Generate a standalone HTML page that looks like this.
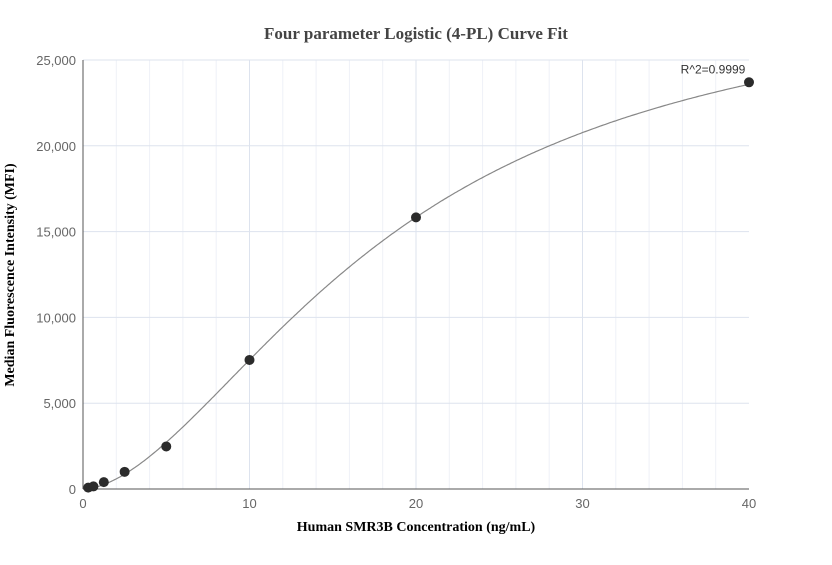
<!DOCTYPE html>
<html><head><meta charset="utf-8"><style>
body{margin:0;background:#fff;}
svg text{font-family:"Liberation Sans",sans-serif;}
</style></head><body>
<svg id="chart" width="832" height="560" xmlns="http://www.w3.org/2000/svg">
<rect width="832" height="560" fill="#fff"/>
<text x="416" y="39" text-anchor="middle" style="font-family:'Liberation Serif',serif;font-weight:bold;font-size:17px" fill="#444">Four parameter Logistic (4-PL) Curve Fit</text>
<text x="416" y="531" text-anchor="middle" style="font-family:'Liberation Serif',serif;font-weight:bold;font-size:14px" fill="#000">Human SMR3B Concentration (ng/mL)</text>
<text transform="translate(14,275) rotate(-90)" text-anchor="middle" style="font-family:'Liberation Serif',serif;font-weight:bold;font-size:14px" fill="#000">Median Fluorescence Intensity (MFI)</text>
<g id="grid"></g><g id="axes"></g><g id="marks"></g>
</svg>
<script>
const xTicks=[0,10,20,30,40];
const yTicks=[0,5000,10000,15000,20000,25000];
const xs=[0.3125,0.625,1.25,2.5,5,10,20,40];
const ys=[80,150,400,1000,2480,7520,15830,23700];
const fitParams=[0,1.75,18.57,29740]; // a,b,c,d
const r2Label="R^2=0.9999";
const NS="http://www.w3.org/2000/svg";
const X=v=>83+v*(749-83)/40;
const Y=v=>489-v*(489-60)/25000;
function mk(t,a,p){const e=document.createElementNS(NS,t);for(const k in a)e.setAttribute(k,a[k]);p.appendChild(e);return e;}
const grid=document.getElementById('grid'),axes=document.getElementById('axes'),marks=document.getElementById('marks');
for(let v=2;v<40;v+=2){const l=mk('line',{x1:X(v),x2:X(v),y1:60,y2:489,stroke:v%10==0?'#dde3ee':'#eef1f7','stroke-width':1},grid);

}
yTicks.forEach(v=>{if(v>0){const l=mk('line',{x1:83,x2:749,y1:Y(v),y2:Y(v),stroke:'#dde3ee'},grid);

}
const t=mk('text',{x:76,y:Y(v)+5,'text-anchor':'end','font-size':13,fill:'#666'},axes);t.textContent=v.toLocaleString('en-US');

});
xTicks.forEach(v=>{const t=mk('text',{x:X(v),y:508,'text-anchor':'middle','font-size':13,fill:'#666'},axes);t.textContent=v;

});
const ya=mk('line',{x1:83,x2:83,y1:60,y2:489,stroke:'#555'},axes);


const xa=mk('line',{x1:83,x2:749,y1:489,y2:489,stroke:'#555'},axes);


const [a,b,c,d]=fitParams;const f=x=>d+(a-d)/(1+Math.pow(x/c,b));
let dstr='';for(let i=0;i<=400;i++){const x=0.3125+(40-0.3125)*i/400;dstr+=(i?'L':'M')+X(x).toFixed(1)+' '+Y(f(x)).toFixed(1);}
const cp=mk('path',{d:dstr,fill:'none',stroke:'#888','stroke-width':1.2},marks);


xs.forEach((x,i)=>{const p=mk('circle',{cx:X(x),cy:Y(ys[i]),r:5,fill:'#2b2b2b'},marks);

});
const rl=mk('text',{x:X(40)-36,y:Y(ys[ys.length-1])-9,'text-anchor':'middle','font-size':12,fill:'#333'},marks);rl.textContent=r2Label;


</script>
</body></html>
